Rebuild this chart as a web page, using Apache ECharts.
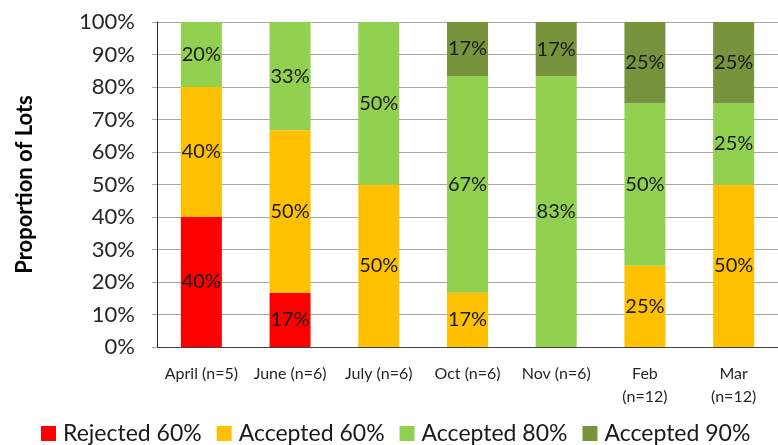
<!DOCTYPE html>
<html>
<head>
<meta charset="utf-8">
<script src="https://cdn.jsdelivr.net/npm/echarts@6/dist/echarts.min.js"></script>
<style>
  html, body { margin: 0; padding: 0; background: #fff; }
  #chart { width: 778px; height: 445px; }
</style>
</head>
<body>
<div id="chart"></div>
<script>
// Monthly lot outcomes, as a percentage of lots tested
const months = ['April (n=5)', 'June (n=6)', 'July (n=6)', 'Oct (n=6)', 'Nov (n=6)', 'Feb\n(n=12)', 'Mar\n(n=12)'];
const rejected60 = [40, 16.7, 0, 0, 0, 0, 0];
const accepted60 = [40, 50, 50, 16.7, 0, 25, 50];
const accepted80 = [20, 33.3, 50, 66.7, 83.3, 50, 25];
const accepted90 = [0, 0, 0, 16.7, 16.7, 25, 25];
const yTicks = [0, 10, 20, 30, 40, 50, 60, 70, 80, 90, 100];

const FONT = 'Lato';
const colors = ['#FF0000', '#FFC000', '#92D050', '#77933C'];

function makeSeries(name, data) {
  return {
    name: name,
    type: 'bar',
    stack: 'total',
    barWidth: 41,
    data: data,
    label: {
      show: true,
      position: 'inside',
      fontFamily: FONT,
      fontSize: 20,
      color: '#1a1a1a',
      formatter: p => (p.value > 0 ? Math.round(p.value) + '%' : '')
    }
  };
}

const chart = echarts.init(document.getElementById('chart'), null, { renderer: 'canvas' });
chart.setOption({
  animation: false,
  color: colors,
  textStyle: { fontFamily: FONT },
  // plot area runs a little past the right edge of the canvas
  grid: { left: 157, width: 625, top: 22, bottom: 98, containLabel: false },
  legend: {
    left: 36,
    top: 417,
    itemWidth: 15,
    itemHeight: 15,
    itemGap: 15,
    icon: 'rect',
    textStyle: { fontFamily: FONT, fontSize: 23, color: '#1a1a1a', padding: [0, 0, 0, 2] },
    data: ['Rejected 60%', 'Accepted 60%', 'Accepted 80%', 'Accepted 90%']
  },
  xAxis: {
    type: 'category',
    data: months,
    axisLine: { lineStyle: { color: '#404040', width: 1 } },
    axisTick: { show: false },
    axisLabel: {
      interval: 0,
      margin: 15,
      fontFamily: FONT,
      fontSize: 16,
      color: '#262626',
      lineHeight: 23
    }
  },
  yAxis: {
    type: 'value',
    min: yTicks[0],
    max: yTicks[yTicks.length - 1],
    interval: 10,
    name: 'Proportion of Lots',
    nameLocation: 'middle',
    nameGap: 121,
    nameTextStyle: { fontFamily: FONT, fontSize: 22, fontWeight: 'bold', color: '#000' },
    axisLine: { show: true, lineStyle: { color: '#262626', width: 1 } },
    axisTick: { show: true, length: 5, lineStyle: { color: '#a6a6a6' } },
    splitLine: { lineStyle: { color: '#a6a6a6', width: 1 } },
    axisLabel: {
      margin: 22,
      fontFamily: FONT,
      fontSize: 22,
      color: '#262626',
      formatter: v => v + '%'
    }
  },
  series: [
    makeSeries('Rejected 60%', rejected60),
    makeSeries('Accepted 60%', accepted60),
    makeSeries('Accepted 80%', accepted80),
    makeSeries('Accepted 90%', accepted90)
  ]
});
</script>
</body>
</html>
